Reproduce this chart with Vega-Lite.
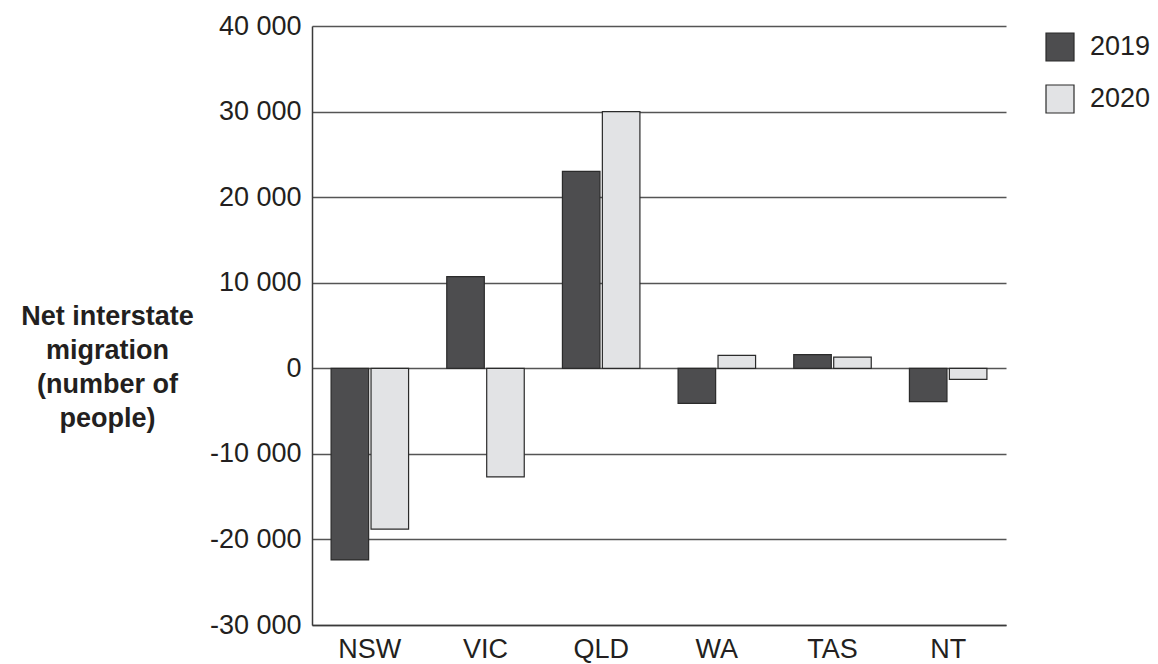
{
  "$schema": "https://vega.github.io/schema/vega-lite/v6.json",
  "width": 694,
  "height": 599,
  "autosize": {"type": "none"},
  "padding": {"left": 312, "top": 26, "right": 152, "bottom": 39},
  "background": "white",
  "config": {
    "view": {"stroke": null},
    "font": "Liberation Sans",
    "axis": {"labelFont": "Liberation Sans", "titleFont": "Liberation Sans"}
  },
  "data": {
    "values": [
      {"state": "NSW", "year": "2019", "migration": -22400},
      {"state": "NSW", "year": "2020", "migration": -18800},
      {"state": "VIC", "year": "2019", "migration": 10700},
      {"state": "VIC", "year": "2020", "migration": -12700},
      {"state": "QLD", "year": "2019", "migration": 23000},
      {"state": "QLD", "year": "2020", "migration": 30000},
      {"state": "WA", "year": "2019", "migration": -4100},
      {"state": "WA", "year": "2020", "migration": 1500},
      {"state": "TAS", "year": "2019", "migration": 1600},
      {"state": "TAS", "year": "2020", "migration": 1300},
      {"state": "NT", "year": "2019", "migration": -3900},
      {"state": "NT", "year": "2020", "migration": -1300}
    ]
  },
  "mark": {"type": "bar", "stroke": "#2b2b2b", "strokeWidth": 1.2},
  "encoding": {
    "x": {
      "field": "state",
      "type": "nominal",
      "sort": ["NSW", "VIC", "QLD", "WA", "TAS", "NT"],
      "scale": {"paddingInner": 0.33, "paddingOuter": 0.165},
      "title": null,
      "axis": {
        "labelAngle": 0,
        "labelFontSize": 27,
        "labelColor": "#231f20",
        "labelPadding": 11,
        "ticks": false,
        "domainColor": "#3a3a3a",
        "domainWidth": 1.5
      }
    },
    "xOffset": {
      "field": "year",
      "type": "nominal",
      "scale": {"paddingInner": 0.06}
    },
    "y": {
      "field": "migration",
      "type": "quantitative",
      "scale": {"domain": [-30000, 40000], "nice": false},
      "title": ["Net interstate", "migration", "(number of", "people)"],
      "axis": {
        "values": [-30000, -20000, -10000, 0, 10000, 20000, 30000, 40000],
        "labelExpr": "(datum.value < 0 ? '-' : '') + replace(format(abs(datum.value), ','), ',', ' ')",
        "labelFontSize": 27,
        "labelColor": "#231f20",
        "labelPadding": 11,
        "ticks": false,
        "grid": true,
        "gridColor": "#555555",
        "gridWidth": 1.3,
        "domainColor": "#3a3a3a",
        "domainWidth": 1.5,
        "titleAngle": 0,
        "titleFontSize": 27,
        "titleFontWeight": "bold",
        "titleColor": "#231f20",
        "titleLineHeight": 34,
        "titleAlign": "center",
        "titleBaseline": "top",
        "titleX": -205,
        "titleY": 277
      }
    },
    "fill": {
      "field": "year",
      "type": "nominal",
      "scale": {"domain": ["2019", "2020"], "range": ["#4d4d4f", "#e2e3e5"]},
      "legend": {
        "title": null,
        "orient": "none",
        "legendX": 733,
        "legendY": 6,
        "symbolType": "square",
        "symbolSize": 784,
        "symbolStrokeColor": "#2b2b2b",
        "symbolStrokeWidth": 1.2,
        "labelFontSize": 27,
        "labelColor": "#231f20",
        "labelOffset": 15,
        "rowPadding": 18
      }
    }
  }
}
